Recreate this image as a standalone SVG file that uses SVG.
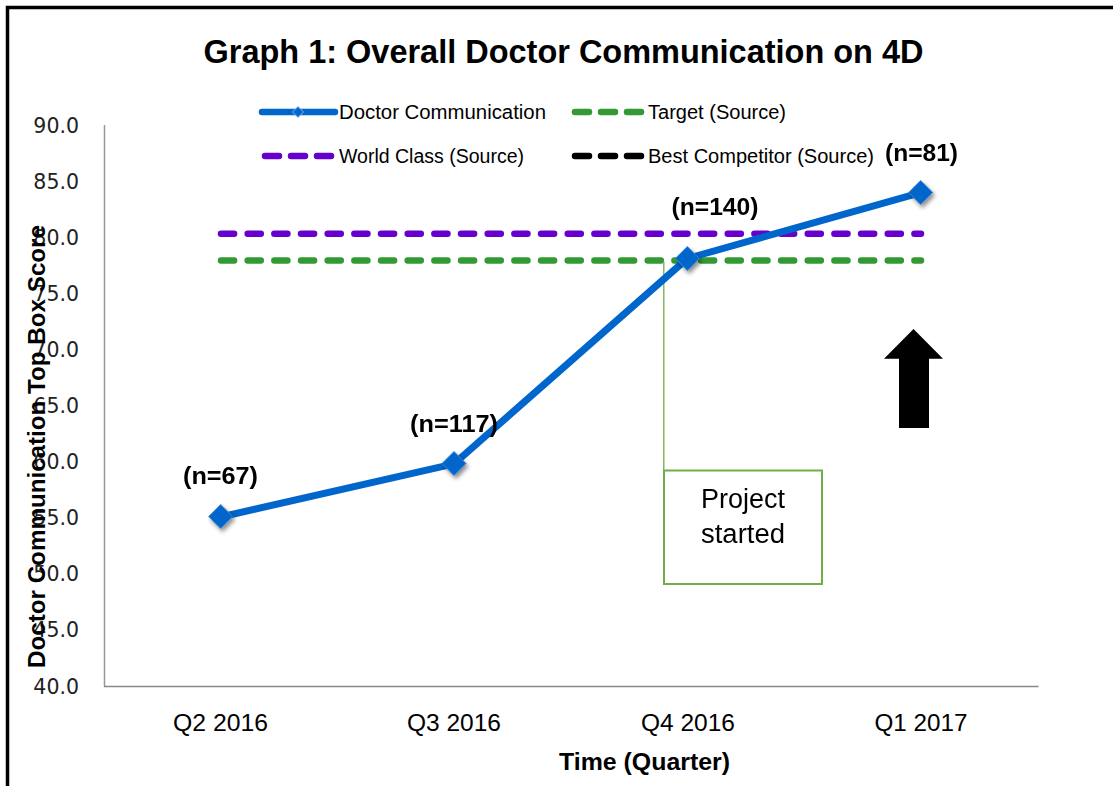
<svg xmlns="http://www.w3.org/2000/svg" width="1113" height="786" viewBox="0 0 1113 786">
<style>
.t{font-family:"Liberation Sans",Arial,sans-serif;fill:#000}
.b{font-weight:bold}
.tick{font-family:"DejaVu Sans","Liberation Sans",sans-serif;font-size:20.5px;fill:#222;text-anchor:end}
.cat{font-size:23.5px;text-anchor:middle}
.lg{font-size:19.5px}
.nl{font-size:24px;font-weight:bold;text-anchor:middle}
.dash{fill:none;stroke-width:6.5;stroke-linecap:round;stroke-dasharray:13.1 13.57}
.lgd{fill:none;stroke-width:6.5;stroke-linecap:round;stroke-dasharray:14 12}
</style>
<defs>
<filter id="sh" x="-50%" y="-50%" width="200%" height="200%">
<feDropShadow dx="2" dy="3" stdDeviation="2" flood-color="#000" flood-opacity="0.45"/>
</filter>
<path id="dia" d="M0,-12 L12,0 L0,12 L-12,0 Z" fill="#0066CC" stroke="#3d85d6" stroke-width="1"/>
</defs>
<rect width="1113" height="786" fill="#fff"/>
<path d="M7.5,786 V7.5 H1113" fill="none" stroke="#000" stroke-width="3.5"/>

<g id="title"><text class="t b" x="563.5" y="62.5" font-size="34" text-anchor="middle" textLength="720" lengthAdjust="spacingAndGlyphs">Graph 1: Overall Doctor Communication on 4D</text></g>

<g id="legend">
<line x1="262" y1="112" x2="335" y2="112" stroke="#0066CC" stroke-width="6.5" stroke-linecap="round"/>
<path d="M298,106.5 L303.5,112 L298,117.5 L292.5,112 Z" fill="#0066CC" stroke="#8ab8ec" stroke-width="1"/>
<text class="t lg" x="339" y="119" textLength="207" lengthAdjust="spacingAndGlyphs">Doctor Communication</text>
<line class="lgd" x1="575" y1="112" x2="642" y2="112" stroke="#339933"/>
<text class="t lg" x="648" y="119" textLength="138" lengthAdjust="spacingAndGlyphs">Target (Source)</text>
<line class="lgd" x1="265" y1="156" x2="332" y2="156" stroke="#6600CC"/>
<text class="t lg" x="339" y="163" textLength="185" lengthAdjust="spacingAndGlyphs">World Class (Source)</text>
<line class="lgd" x1="575" y1="156" x2="642" y2="156" stroke="#000"/>
<text class="t lg" x="648" y="163" textLength="226" lengthAdjust="spacingAndGlyphs">Best Competitor (Source)</text>
</g>

<g id="axes">
<line x1="104.5" y1="125" x2="104.5" y2="686.5" stroke="#999" stroke-width="1.5"/>
<line x1="104" y1="686.5" x2="1038.5" y2="686.5" stroke="#888" stroke-width="1.5"/>
<text class="tick" x="79" y="132.5">90.0</text>
<text class="tick" x="79" y="188.6">85.0</text>
<text class="tick" x="79" y="244.7">80.0</text>
<text class="tick" x="79" y="300.8">75.0</text>
<text class="tick" x="79" y="356.9">70.0</text>
<text class="tick" x="79" y="413">65.0</text>
<text class="tick" x="79" y="469.1">60.0</text>
<text class="tick" x="79" y="525.2">55.0</text>
<text class="tick" x="79" y="581.3">50.0</text>
<text class="tick" x="79" y="637.4">45.0</text>
<text class="tick" x="79" y="693.5">40.0</text>
<text class="t cat" x="220.5" y="731" textLength="95" lengthAdjust="spacingAndGlyphs">Q2 2016</text>
<text class="t cat" x="454" y="731" textLength="94" lengthAdjust="spacingAndGlyphs">Q3 2016</text>
<text class="t cat" x="688" y="731" textLength="94" lengthAdjust="spacingAndGlyphs">Q4 2016</text>
<text class="t cat" x="921" y="731" textLength="93" lengthAdjust="spacingAndGlyphs">Q1 2017</text>
<text class="t b" x="644.5" y="770" font-size="24" text-anchor="middle" textLength="171" lengthAdjust="spacingAndGlyphs">Time (Quarter)</text>
<text class="t b" transform="translate(45,446.5) rotate(-90)" font-size="24" text-anchor="middle" textLength="443" lengthAdjust="spacingAndGlyphs">Doctor Communication Top Box Score</text>
</g>

<g id="connectors">
<line class="dash" x1="221" y1="260.5" x2="921" y2="260.5" stroke="#339933"/>
<line class="dash" x1="221" y1="233.7" x2="921" y2="233.7" stroke="#6600CC"/>
<line x1="663.8" y1="261.5" x2="663.8" y2="471" stroke="#70AD47" stroke-width="1.3"/>
<polyline points="220.7,517 454,463.8 687.3,258.5 920.7,192.6" fill="none" stroke="#0066CC" stroke-width="7" stroke-linejoin="round"/>
</g>

<g id="points" filter="url(#sh)">
<use href="#dia" x="220.7" y="516.5"/>
<use href="#dia" x="454" y="463.5"/>
<use href="#dia" x="687.3" y="258.5"/>
<use href="#dia" x="920.7" y="192.5"/>
</g>

<g id="labels">
<text class="t nl" x="220.5" y="484" textLength="75" lengthAdjust="spacingAndGlyphs">(n=67)</text>
<text class="t nl" x="454" y="432" textLength="88" lengthAdjust="spacingAndGlyphs">(n=117)</text>
<text class="t nl" x="715" y="215" textLength="87" lengthAdjust="spacingAndGlyphs">(n=140)</text>
<text class="t nl" x="921.5" y="160.5" textLength="73" lengthAdjust="spacingAndGlyphs">(n=81)</text>
</g>

<g id="project-box">
<rect x="664" y="470.5" width="158" height="113.5" fill="#fff" stroke="#70AD47" stroke-width="2"/>
<text class="t" x="743" y="508" font-size="27" text-anchor="middle" textLength="84" lengthAdjust="spacingAndGlyphs">Project</text>
<text class="t" x="743" y="543" font-size="27" text-anchor="middle" textLength="84" lengthAdjust="spacingAndGlyphs">started</text>
</g>

<g id="up-arrow">
<polygon points="913.5,329 943,358.7 929,358.7 929,428 899,428 899,358.7 884,358.7" fill="#000"/>
</g>
</svg>
